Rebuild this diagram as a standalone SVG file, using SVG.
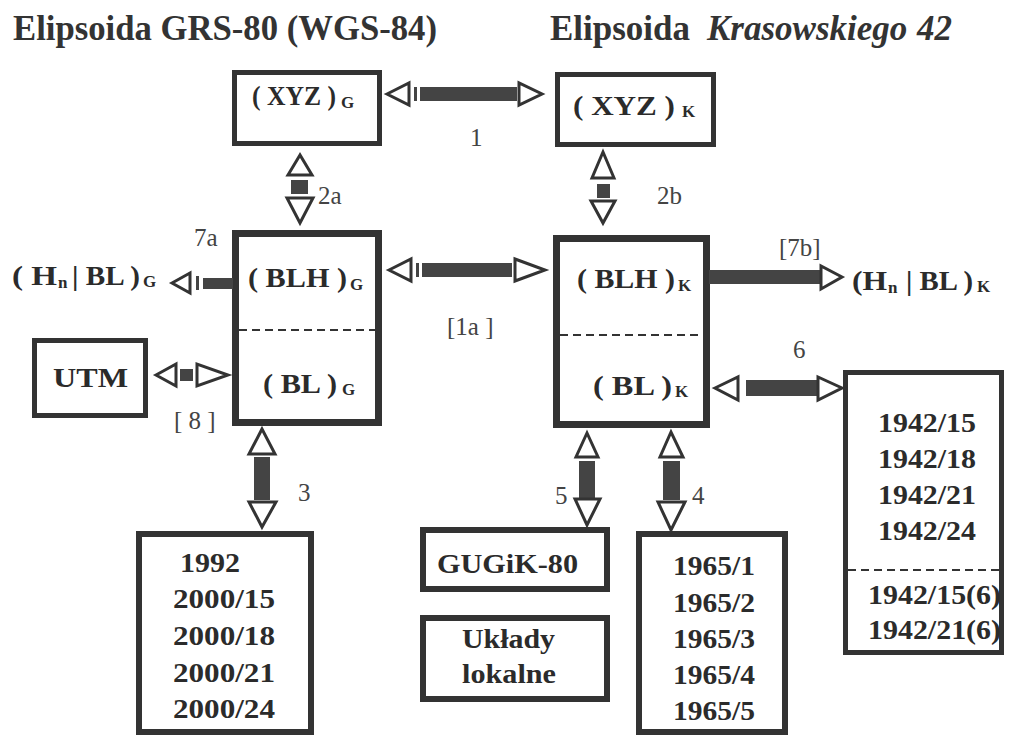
<svg xmlns="http://www.w3.org/2000/svg" width="1009" height="738" viewBox="0 0 1009 738">
<style>
.bx{fill:#fff;stroke:#333;}
.t{font-family:"Liberation Serif","Times New Roman",Times,"DejaVu Serif",serif;font-weight:bold;fill:#2b2b2b;font-size:27px;}
.s{font-family:"Liberation Serif","Times New Roman",Times,"DejaVu Serif",serif;font-weight:bold;fill:#2b2b2b;font-size:17px;}
.n{font-family:"Liberation Serif","Times New Roman",Times,"DejaVu Serif",serif;fill:#444;font-size:25px;}
.ti{font-family:"Liberation Serif","Times New Roman",Times,"DejaVu Serif",serif;font-weight:bold;fill:#333;font-size:35px;}
.hd{fill:#fff;stroke:#333;stroke-width:3;stroke-linejoin:miter;}
.bar{fill:#444;}
.ds{stroke:#333;stroke-width:2;stroke-dasharray:8 5;fill:none;}
</style>
<rect width="1009" height="738" fill="#fff"/>
<g id="titles">
<text class="ti" x="13" y="40" textLength="424" lengthAdjust="spacingAndGlyphs">Elipsoida GRS-80 (WGS-84)</text>
<text class="ti" x="550" y="40" textLength="140" lengthAdjust="spacingAndGlyphs">Elipsoida</text>
<text class="ti" x="707" y="40" font-style="italic">Krasowskiego <tspan x="917">42</tspan></text>
</g>
<g id="xyz-g">
<rect class="bx" x="234.5" y="72.5" width="145" height="71" stroke-width="5"/>
<text class="t" x="252" y="105" textLength="84" lengthAdjust="spacingAndGlyphs">( XYZ )</text>
<text class="s" x="341" y="108">G</text>
</g>
<g id="xyz-k">
<rect class="bx" x="557.5" y="74.5" width="156" height="70" stroke-width="5"/>
<text class="t" x="573" y="115" textLength="102" lengthAdjust="spacingAndGlyphs">( XYZ )</text>
<text class="s" x="682" y="117">K</text>
</g>
<g id="blh-g">
<rect class="bx" x="235.5" y="233.5" width="143" height="189" stroke-width="7"/>
<line class="ds" x1="239" y1="330" x2="375" y2="330"/>
<text class="t" x="248" y="287" textLength="99" lengthAdjust="spacingAndGlyphs">( BLH )</text>
<text class="s" x="350" y="290">G</text>
<text class="t" x="263" y="393" textLength="74" lengthAdjust="spacingAndGlyphs">( BL )</text>
<text class="s" x="342" y="395">G</text>
</g>
<g id="blh-k">
<rect class="bx" x="556.5" y="238.5" width="150" height="186" stroke-width="7"/>
<line class="ds" x1="560" y1="335" x2="703" y2="335"/>
<text class="t" x="577" y="288" textLength="98" lengthAdjust="spacingAndGlyphs">( BLH )</text>
<text class="s" x="678" y="291">K</text>
<text class="t" x="593" y="395" textLength="79" lengthAdjust="spacingAndGlyphs">( BL )</text>
<text class="s" x="675" y="397">K</text>
</g>
<g id="hn-g">
<text class="t" x="12" y="285" textLength="45" lengthAdjust="spacingAndGlyphs">( H</text>
<text class="s" x="58" y="288" font-size="15">n</text>
<text class="t" x="72" y="285" textLength="68" lengthAdjust="spacingAndGlyphs">| BL )</text>
<text class="s" x="143" y="287">G</text>
</g>
<g id="hn-k">
<text class="t" x="852" y="290" textLength="35" lengthAdjust="spacingAndGlyphs">(H</text>
<text class="s" x="888" y="293" font-size="15">n</text>
<text class="t" x="906" y="290" textLength="67" lengthAdjust="spacingAndGlyphs">| BL )</text>
<text class="s" x="977" y="292">K</text>
</g>
<g id="utm">
<rect class="bx" x="34.5" y="340.5" width="111" height="75" stroke-width="5"/>
<text class="t" x="53" y="387" textLength="75" lengthAdjust="spacingAndGlyphs">UTM</text>
</g>
<g id="uklady2000">
<rect class="bx" x="139" y="534" width="172" height="198" stroke-width="6"/>
<text class="t" x="180" y="572" textLength="60" lengthAdjust="spacingAndGlyphs">1992</text>
<text class="t" x="173" y="608" textLength="102" lengthAdjust="spacingAndGlyphs">2000/15</text>
<text class="t" x="173" y="645" textLength="102" lengthAdjust="spacingAndGlyphs">2000/18</text>
<text class="t" x="173" y="682" textLength="102" lengthAdjust="spacingAndGlyphs">2000/21</text>
<text class="t" x="173" y="718" textLength="102" lengthAdjust="spacingAndGlyphs">2000/24</text>
</g>
<g id="gugik">
<rect class="bx" x="423" y="530" width="184" height="59" stroke-width="6"/>
<text class="t" x="437" y="573" textLength="141" lengthAdjust="spacingAndGlyphs">GUGiK-80</text>
</g>
<g id="lokalne">
<rect class="bx" x="423" y="618" width="184" height="81" stroke-width="6"/>
<text class="t" x="462" y="648" textLength="93" lengthAdjust="spacingAndGlyphs">Układy</text>
<text class="t" x="462" y="683" textLength="94" lengthAdjust="spacingAndGlyphs">lokalne</text>
</g>
<g id="uklady1965">
<rect class="bx" x="639" y="534" width="146" height="198" stroke-width="6"/>
<text class="t" x="673" y="575" textLength="82" lengthAdjust="spacingAndGlyphs">1965/1</text>
<text class="t" x="673" y="612" textLength="82" lengthAdjust="spacingAndGlyphs">1965/2</text>
<text class="t" x="673" y="648" textLength="82" lengthAdjust="spacingAndGlyphs">1965/3</text>
<text class="t" x="673" y="684" textLength="82" lengthAdjust="spacingAndGlyphs">1965/4</text>
<text class="t" x="673" y="720" textLength="82" lengthAdjust="spacingAndGlyphs">1965/5</text>
</g>
<g id="uklady1942">
<rect class="bx" x="845.5" y="372.5" width="156" height="280" stroke-width="5"/>
<text class="t" x="878" y="432" textLength="98" lengthAdjust="spacingAndGlyphs">1942/15</text>
<text class="t" x="878" y="468" textLength="98" lengthAdjust="spacingAndGlyphs">1942/18</text>
<text class="t" x="878" y="504" textLength="98" lengthAdjust="spacingAndGlyphs">1942/21</text>
<text class="t" x="878" y="540" textLength="98" lengthAdjust="spacingAndGlyphs">1942/24</text>
<line class="ds" x1="848" y1="570" x2="999" y2="570" stroke-dasharray="6 3"/>
<text class="t" x="868" y="604" textLength="133" lengthAdjust="spacingAndGlyphs">1942/15(6)</text>
<text class="t" x="868" y="639" textLength="133" lengthAdjust="spacingAndGlyphs">1942/21(6)</text>
</g>
<g id="connectors">
<polygon class="hd" points="387,94 409,83 409,105"/>
<rect class="bar" x="414" y="87" width="3" height="14"/>
<rect class="bar" x="420" y="87" width="97" height="14"/>
<polygon class="hd" points="519,83 519,105 542,94"/>
<polygon class="hd" points="389,270 411,259 411,281"/>
<rect class="bar" x="416" y="263" width="3" height="14"/>
<rect class="bar" x="422" y="263" width="90" height="14"/>
<polygon class="hd" points="515,259 515,281 545,270"/>
<polygon class="hd" points="172,283 190,273 190,293"/>
<rect class="bar" x="196" y="276" width="3" height="14"/>
<rect class="bar" x="203" y="278" width="30" height="11"/>
<rect class="bar" x="709" y="270" width="111" height="14"/>
<polygon class="hd" points="821,266 821,289 842,277"/>
<polygon class="hd" points="156,375 176,364 176,386"/>
<rect class="bar" x="180" y="369" width="13" height="12"/>
<polygon class="hd" points="197,364 197,386 228,375"/>
<polygon class="hd" points="715,388 738,377 738,400"/>
<rect class="bar" x="746" y="380" width="71" height="16"/>
<polygon class="hd" points="818,377 818,400 842,388"/>
<polygon class="hd" points="300,155 288,175 312,175"/>
<rect class="bar" x="291" y="180" width="17" height="14"/>
<polygon class="hd" points="287,198 313,198 300,223"/>
<polygon class="hd" points="603,152 592,178 614,178"/>
<rect class="bar" x="597" y="184" width="13" height="14"/>
<polygon class="hd" points="591,201 615,201 603,223"/>
<polygon class="hd" points="262,429 249,454 275,454"/>
<rect class="bar" x="254" y="457" width="16" height="43"/>
<polygon class="hd" points="249,502 276,502 262,527"/>
<polygon class="hd" points="587,433 576,457 598,457"/>
<rect class="bar" x="579" y="461" width="16" height="38"/>
<polygon class="hd" points="575,499 600,499 587,525"/>
<polygon class="hd" points="671,432 660,457 683,457"/>
<rect class="bar" x="663" y="461" width="17" height="39"/>
<polygon class="hd" points="658,502 685,502 671,530"/>
</g>
<g id="labels">
<text class="n" x="470" y="146">1</text>
<text class="n" x="318" y="204">2a</text>
<text class="n" x="657" y="204">2b</text>
<text class="n" x="194" y="246">7a</text>
<text class="n" x="779" y="256">[7b]</text>
<text class="n" x="447" y="335">[1a ]</text>
<text class="n" x="793" y="358">6</text>
<text class="n" x="174" y="429">[ 8 ]</text>
<text class="n" x="298" y="501">3</text>
<text class="n" x="555" y="504">5</text>
<text class="n" x="692" y="504">4</text>
</g>
</svg>
